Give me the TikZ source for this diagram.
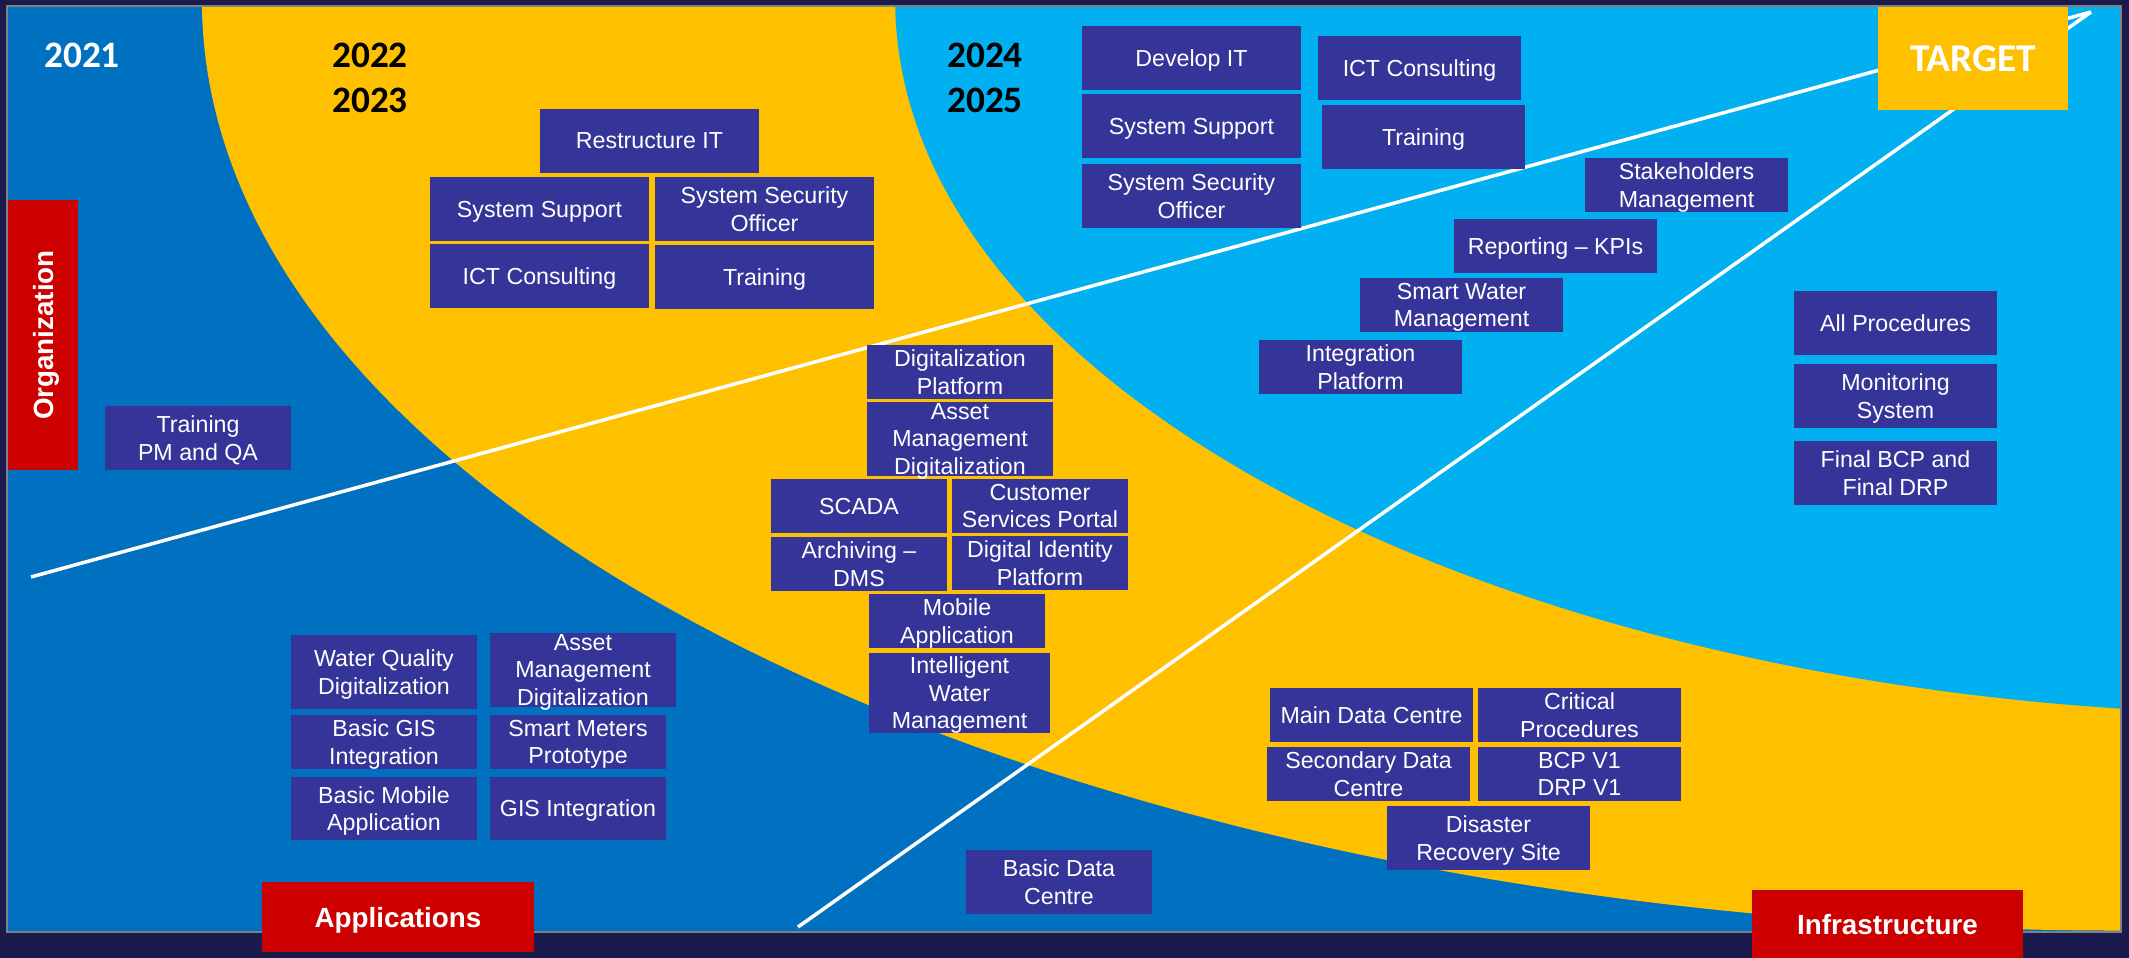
\documentclass[tikz,border=0pt]{standalone}
\usepackage{fontspec}
\setmainfont{Liberation Sans}
\newfontfamily\calibrifont{Carlito}
\definecolor{navybg}{HTML}{1B1A4C}
\definecolor{midblue}{HTML}{0070C0}
\definecolor{gold}{HTML}{FFC000}
\definecolor{skyblue}{HTML}{00B0F0}
\definecolor{boxblue}{HTML}{353599}
\definecolor{labred}{HTML}{CC0000}
\definecolor{framegray}{HTML}{808080}
\tikzset{
  tbox/.style={fill=boxblue, text=white, font=\fontsize{6.6}{7.8}\selectfont, align=center, inner sep=0pt, outer sep=0pt, text depth=0pt},
  redlab/.style={fill=labred, text=white, font=\bfseries\fontsize{7.9}{9}\selectfont, inner sep=0pt, outer sep=0pt, text depth=0pt},
  yeartxt/.style={font=\calibrifont\bfseries\fontsize{10.6}{12.8}\selectfont, align=center, inner sep=0pt},
  wline/.style={draw=white, line width=1pt},
}
\newcommand{\mybox}[5]{\node[tbox, minimum width=#3cm, minimum height=#4cm] (#1) at (#2) {#5};}
\begin{document}
\begin{tikzpicture}[x=0.01cm,y=-0.01cm]
\useasboundingbox (0,0) rectangle (2129,958);
\fill[navybg] (0,0) rectangle (2129,958);
\fill[midblue] (7,6) rectangle (2121,932);
\begin{scope}
  \clip (7,6) rectangle (2121,932);
  \fill[gold] (2121,0) ellipse [x radius=19.18cm, y radius=9.3cm];
  \fill[skyblue] (2300,0) ellipse [x radius=14.04cm, y radius=7.14cm];
\end{scope}
\draw[framegray, line width=0.5pt] (7,6) rectangle (2121,932);

% years
\node[yeartxt, text=white] (y21) at (82,55) {2021};
\node[yeartxt, text=black] (y22) at (370,77.5) {2022\\2023};
\node[yeartxt, text=black] (y24) at (985,77.5) {2024\\2025};

% white axes
\coordinate (tip) at (2091,12);
\coordinate (s1) at (31,577);
\coordinate (s2) at (798,927);
\draw[wline] (s1) -- (tip);
\draw[wline] (s2) -- (tip);

% 2022-2023 organization
\mybox{restr}{649.5,141}{2.19}{0.64}{Restructure IT}
\mybox{ssa}{539.5,209}{2.19}{0.64}{System Support}
\mybox{ssoa}{764.5,209}{2.19}{0.64}{System Security\\Officer}
\mybox{icta}{539.5,276}{2.19}{0.64}{ICT Consulting}
\mybox{tra}{764.5,277}{2.19}{0.64}{Training}
% 2024-2025 organization
\mybox{dev}{1191.5,58}{2.19}{0.64}{Develop IT}
\mybox{ssb}{1191.5,126}{2.19}{0.64}{System Support}
\mybox{ssob}{1191.5,196}{2.19}{0.64}{System Security\\Officer}
\mybox{ictb}{1419.5,68}{2.03}{0.64}{ICT Consulting}
\mybox{trb}{1423.5,137}{2.03}{0.64}{Training}
\mybox{stake}{1686.5,185}{2.03}{0.54}{Stakeholders\\Management}
\mybox{kpi}{1555.5,246}{2.03}{0.54}{Reporting – KPIs}
\mybox{swm}{1461.5,305}{2.03}{0.54}{Smart Water\\Management}
\mybox{intp}{1360.5,367}{2.03}{0.54}{Integration\\Platform}
\mybox{allp}{1895.5,323}{2.03}{0.64}{All Procedures}
\mybox{mon}{1895.5,396}{2.03}{0.64}{Monitoring\\System}
\mybox{fbcp}{1895.5,473}{2.03}{0.64}{Final BCP and\\Final DRP}
% 2022-2023 applications
\mybox{digp}{960,372}{1.86}{0.54}{Digitalization\\Platform}
\mybox{amdb}{960,439}{1.86}{0.74}{Asset\\Management\\Digitalization}
\mybox{scada}{859,506}{1.76}{0.54}{SCADA}
\mybox{csp}{1040,506}{1.76}{0.54}{Customer\\Services Portal}
\mybox{arch}{859,564}{1.76}{0.54}{Archiving –\\DMS}
\mybox{did}{1040,563}{1.76}{0.54}{Digital Identity\\Platform}
\mybox{mob}{957,621}{1.76}{0.54}{Mobile\\Application}
\mybox{iwm}{959.5,693}{1.81}{0.80}{Intelligent\\Water\\Management}
% 2021 applications
\mybox{wq}{384,672}{1.86}{0.74}{Water Quality\\Digitalization}
\mybox{amda}{583,670}{1.86}{0.74}{Asset\\Management\\Digitalization}
\mybox{bgis}{384,742}{1.86}{0.54}{Basic GIS\\Integration}
\mybox{smp}{578,742}{1.76}{0.54}{Smart Meters\\Prototype}
\mybox{bmob}{384,808.5}{1.86}{0.63}{Basic Mobile\\Application}
\mybox{gis}{578,808.5}{1.76}{0.63}{GIS Integration}
% infrastructure
\mybox{bdc}{1059,882}{1.86}{0.64}{Basic Data\\Centre}
\mybox{mdc}{1371.5,715}{2.03}{0.54}{Main Data Centre}
\mybox{crit}{1579.5,715}{2.03}{0.54}{Critical\\Procedures}
\mybox{sdc}{1368.5,774}{2.03}{0.54}{Secondary Data\\Centre}
\mybox{bcp}{1579.5,774}{2.03}{0.54}{BCP V1\\DRP V1}
\mybox{drs}{1488.5,838}{2.03}{0.64}{Disaster\\Recovery Site}
% 2021 organization
\mybox{tpm}{198,438}{1.86}{0.64}{Training\\PM and QA}

% axis labels
\node[redlab, rotate=90, minimum width=2.70cm, minimum height=0.70cm] (org) at (43,335) {Organization};
\node[redlab, minimum width=2.72cm, minimum height=0.70cm] (app) at (398,917) {Applications};
\node[redlab, minimum width=2.71cm, minimum height=0.68cm] (infra) at (1887.5,924) {Infrastructure};
\node[fill=gold, text=white, font=\calibrifont\bfseries\fontsize{11.2}{13}\selectfont, inner sep=0pt, minimum width=1.90cm, minimum height=1.03cm] (target) at (1973,58.5) {TARGET};
\end{tikzpicture}
\end{document}
